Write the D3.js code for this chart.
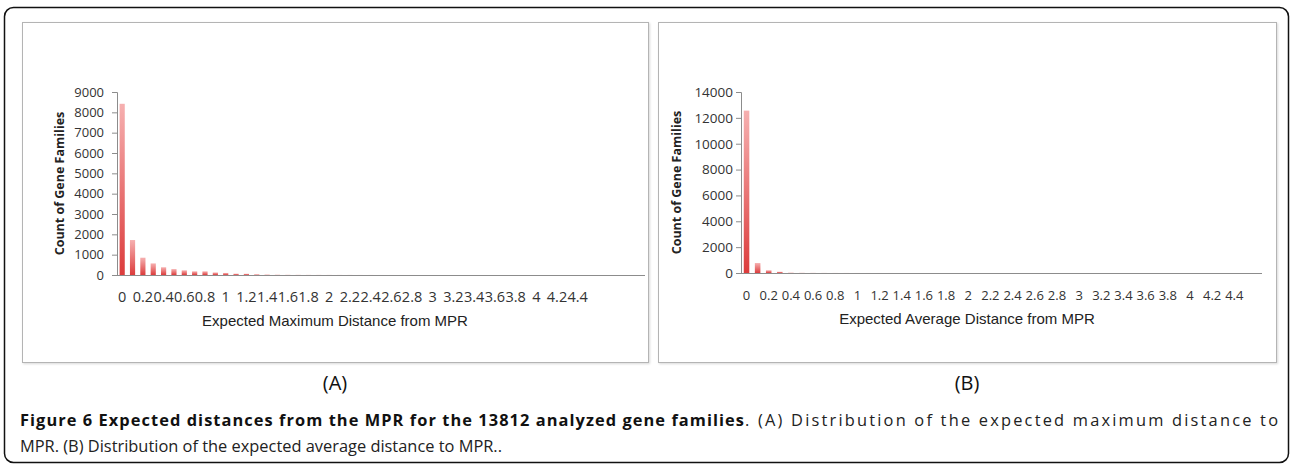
<!DOCTYPE html>
<html>
<head>
<meta charset="utf-8">
<script src="https://cdn.jsdelivr.net/npm/d3@7"></script>
<style>
  body { margin: 0; background: #fff; }
  svg text { fill: #333; }
  .tick-label { font-family: "Open Sans", sans-serif; }
  .x-label { font-family: "Open Sans", sans-serif; }
  .y-title { font-family: "Open Sans", sans-serif; font-size: 12.5px; font-weight: bold; fill: #222; }
  .x-title { font-family: "Liberation Sans", Arial, sans-serif; font-size: 15px; fill: #222; }
  .panel-tag { font-family: "Open Sans", sans-serif; font-size: 20px; fill: #111; }
  .caption { font-family: "Open Sans", sans-serif; font-size: 16.4px; fill: #222; }
</style>
</head>
<body>
<div id="chart"></div>
<script>
// counts per 0.1-wide bin
const maxDistCounts = [8420, 1720, 850, 570, 380, 290, 230, 180, 180, 125, 100, 65, 60, 35, 25, 15,
  10, 8, 6, 5, 4, 3, 3, 2, 2, 1, 1, 1, 1, 0, 0, 0, 0, 0, 0, 0, 0, 0, 0, 0, 0, 0, 0, 0, 0, 0, 0, 0, 0, 0, 0];
const avgDistCounts = [12560, 770, 210, 95, 30, 15, 10, 6, 4, 3, 2, 1, 1, 1, 0, 0, 0, 0, 0, 0, 0, 0, 0,
  0, 0, 0, 0, 0, 0, 0, 0, 0, 0, 0, 0, 0, 0, 0, 0, 0, 0, 0, 0, 0, 0, 0, 0];

const xTickLabels = ['0', '0.2', '0.4', '0.6', '0.8', '1', '1.2', '1.4', '1.6', '1.8', '2', '2.2', '2.4',
  '2.6', '2.8', '3', '3.2', '3.4', '3.6', '3.8', '4', '4.2', '4.4'];
const yTicksA = [0, 1000, 2000, 3000, 4000, 5000, 6000, 7000, 8000, 9000];
const yTicksB = [0, 2000, 4000, 6000, 8000, 10000, 12000, 14000];

const width = 1293;
const height = 465;

let svg = d3.select('#chart').append('svg')
  .attr('width', width)
  .attr('height', height)

let defs = svg.append('defs')
let grad = defs.append('linearGradient')
  .attr('id', 'barFill')
  .attr('x1', 0).attr('y1', 0).attr('x2', 0).attr('y2', 1)
grad.append('stop').attr('offset', '0%').attr('stop-color', '#f6b0b0')
grad.append('stop').attr('offset', '100%').attr('stop-color', '#dc3c3c')

let shadow = defs.append('filter').attr('id', 'soft')
shadow.append('feDropShadow')
  .attr('dx', 1).attr('dy', 1).attr('stdDeviation', 1)
  .attr('flood-color', '#000').attr('flood-opacity', 0.15)

// outer frame of the figure
svg.append('rect')
  .attr('x', 4.5).attr('y', 7.5)
  .attr('width', 1284).attr('height', 455)
  .attr('rx', 9)
  .attr('fill', 'none')
  .attr('stroke', '#111')
  .attr('stroke-width', 1.5)

let drawPanel = cfg => {
  svg.append('rect')
    .attr('x', cfg.box[0] + 0.5).attr('y', cfg.box[1] + 0.5)
    .attr('width', cfg.box[2]).attr('height', cfg.box[3])
    .attr('fill', '#fff')
    .attr('stroke', '#b4b4b4')
    .attr('filter', 'url(#soft)')

  let g = svg.append('g')

  let x = d3.scaleBand()
    .domain(d3.range(cfg.counts.length))
    .range([cfg.left, cfg.right])
    .paddingInner(0.5)
    .paddingOuter(0.25)

  let y = d3.scaleLinear()
    .domain([0, d3.max(cfg.yTicks)])
    .range([cfg.bottom, cfg.top])

  // bars
  g.selectAll('rect.bar')
    .data(cfg.counts)
    .enter().append('rect')
      .classed('bar', true)
      .attr('x', (d, i) => x(i))
      .attr('width', x.bandwidth())
      .attr('y', d => y(d))
      .attr('height', d => y(0) - y(d))
      .attr('fill', 'url(#barFill)')

  // y axis
  let yAxis = g.append('g')
    .attr('transform', `translate(${cfg.axisX}, 0)`)
    .call(d3.axisLeft(y).tickValues(cfg.yTicks).tickSize(5).tickPadding(cfg.yPad).tickFormat(d3.format('d')))
  yAxis.select('.domain').attr('stroke', '#8c8c8c')
  yAxis.selectAll('.tick line').attr('stroke', '#8c8c8c')
  yAxis.selectAll('.tick text')
    .attr('class', 'tick-label')
    .attr('fill', '#333')
    .attr('font-family', null)
    .attr('font-size', cfg.yFont)

  // x axis line
  g.append('line')
    .attr('x1', cfg.axisX).attr('x2', cfg.right)
    .attr('y1', y(0) + 0.5).attr('y2', y(0) + 0.5)
    .attr('stroke', '#8c8c8c')

  // x tick labels, one every second bin
  g.selectAll('text.xlab')
    .data(xTickLabels)
    .enter().append('text')
      .attr('class', 'x-label')
      .attr('font-size', cfg.xFont)
      .attr('x', (d, i) => x(2 * i) + x.bandwidth() / 2)
      .attr('y', cfg.bottom + 27)
      .attr('text-anchor', 'middle')
      .text(d => d)

  g.append('text')
    .attr('class', 'y-title')
    .attr('transform', `translate(${cfg.yTitleX}, ${(cfg.top + cfg.bottom) / 2}) rotate(-90)`)
    .attr('text-anchor', 'middle')
    .attr('dy', '0.35em')
    .text('Count of Gene Families')

  g.append('text')
    .attr('class', 'x-title')
    .attr('x', cfg.box[0] + cfg.box[2] / 2)
    .attr('y', cfg.bottom + 51)
    .attr('text-anchor', 'middle')
    .text(cfg.xTitle)

  svg.append('text')
    .attr('class', 'panel-tag')
    .attr('x', cfg.box[0] + cfg.box[2] / 2)
    .attr('y', 390)
    .attr('text-anchor', 'middle')
    .text(cfg.tag)
}

drawPanel({
  box: [22, 22, 626, 340],
  counts: maxDistCounts,
  yTicks: yTicksA,
  left: 117, right: 645, axisX: 117,
  top: 92, bottom: 275,
  yPad: 8, yTitleX: 60,
  yFont: '13px', xFont: '14.5px',
  xTitle: 'Expected Maximum Distance from MPR',
  tag: '(A)'
})

drawPanel({
  box: [658, 22, 618, 340],
  counts: avgDistCounts,
  yTicks: yTicksB,
  left: 741, right: 1262, axisX: 741,
  top: 92, bottom: 273,
  yPad: 3, yTitleX: 677,
  yFont: '13.5px', xFont: '13px',
  xTitle: 'Expected Average Distance from MPR',
  tag: '(B)'
})

// caption; the first line is justified, so both halves are stretched to fit
svg.append('text')
  .attr('class', 'caption')
  .attr('x', 20).attr('y', 426)
  .attr('font-weight', 'bold')
  .attr('font-size', '16.5px')
  .attr('textLength', 724)
  .attr('lengthAdjust', 'spacing')
  .style('fill', '#111')
  .text('Figure 6 Expected distances from the MPR for the 13812 analyzed gene families')

svg.append('text')
  .attr('class', 'caption')
  .attr('x', 745).attr('y', 426)
  .attr('textLength', 533)
  .attr('lengthAdjust', 'spacing')
  .text('. (A) Distribution of the expected maximum distance to')

svg.append('text')
  .attr('class', 'caption')
  .attr('x', 20).attr('y', 452)
  .text('MPR. (B) Distribution of the expected average distance to MPR..')
</script>
</body>
</html>
